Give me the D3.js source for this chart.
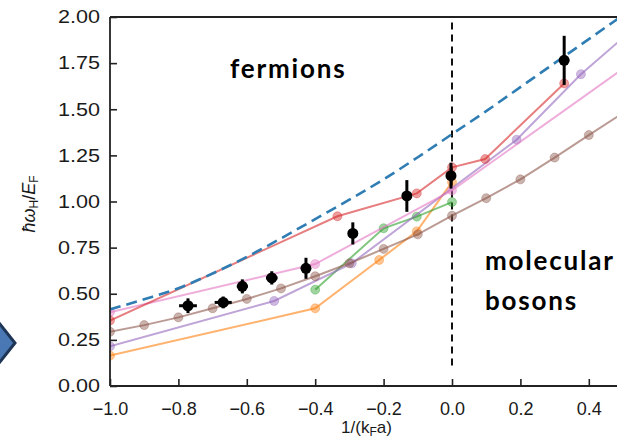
<!DOCTYPE html>
<html>
<head>
<meta charset="utf-8">
<script src="https://cdn.jsdelivr.net/npm/d3@7"></script>
<style>
  html, body { margin: 0; padding: 0; background: #fff; }
  svg { display: block; }
</style>
</head>
<body>
<svg id="chart" width="617" height="441"></svg>
<script>
// ---- data ----
const xTicks = [-1.0, -0.8, -0.6, -0.4, -0.2, 0.0, 0.2, 0.4];
const yTicks = [0, 0.25, 0.5, 0.75, 1.0, 1.25, 1.5, 1.75, 2.0];

// theory curve (dashed)
const theoryX = [-1.0, -0.9, -0.8, -0.7, -0.6, -0.5, -0.4, -0.3, -0.2, -0.1, 0.0, 0.1, 0.2, 0.3, 0.4, 0.5];
const theoryY = [0.415, 0.47, 0.53, 0.61, 0.70, 0.80, 0.905, 1.01, 1.12, 1.24, 1.365, 1.49, 1.62, 1.75, 1.88, 2.01];

// simulation series
const redX = [-1.0, -0.335, -0.103, 0.0, 0.097, 0.328];
const redY = [0.355, 0.92, 1.044, 1.185, 1.23, 1.64];
const pinkX = [-1.0, -0.4, 0.0, 0.5];
const pinkY = [0.40, 0.661, 1.06, 1.72];
const purpleX = [-1.0, -0.52, -0.293, 0.189, 0.377, 0.5];
const purpleY = [0.215, 0.461, 0.665, 1.335, 1.69, 1.887];
const brownX = [-1.0, -0.9, -0.8, -0.7, -0.6, -0.5, -0.4, -0.3, -0.2, -0.1, 0.0, 0.1, 0.2, 0.3, 0.4, 0.5];
const brownY = [0.294, 0.33, 0.372, 0.421, 0.472, 0.529, 0.595, 0.665, 0.743, 0.822, 0.923, 1.018, 1.12, 1.238, 1.36, 1.48];
const greenX = [-0.4, -0.2, -0.103, 0.0];
const greenY = [0.522, 0.855, 0.918, 0.997];
const orangeX = [-1.0, -0.4, -0.213, -0.103, 0.0];
const orangeY = [0.165, 0.421, 0.683, 0.838, 1.105];

// measurements with error bars
const expX    = [-0.772, -0.669, -0.613, -0.527, -0.427, -0.290, -0.132, -0.003, 0.328];
const expY    = [0.435, 0.453, 0.540, 0.586, 0.638, 0.827, 1.03, 1.14, 1.765];
const expXerr = [0.026, 0.025, 0.016, 0.017, 0.010, 0, 0, 0, 0];
const expYerr = [0.040, 0.032, 0.038, 0.036, 0.057, 0.060, 0.086, 0.070, 0.133];

// ---- layout ----
const svg = d3.select("#chart");
const plotL = 110, plotT = 17, plotB = 386, plotR = 623;
const x = d3.scaleLinear().domain([-1, 0.5]).range([plotL, plotR]);
const y = d3.scaleLinear().domain([0, 2]).range([plotB, plotT]);

svg.append("defs").append("clipPath").attr("id", "plotClip")
  .append("rect").attr("x", plotL).attr("y", plotT)
  .attr("width", plotR - plotL).attr("height", plotB - plotT);

const plot = svg.append("g").attr("clip-path", "url(#plotClip)");

// x = 0 divider
plot.append("line")
  .attr("x1", x(0)).attr("x2", x(0))
  .attr("y1", y(1.97)).attr("y2", y(0.105))
  .attr("stroke", "#111").attr("stroke-width", 2)
  .attr("stroke-dasharray", "7,5");

const zip = (xs, ys) => xs.map((v, i) => [v, ys[i]]);
const line = d3.line().x(d => x(d[0])).y(d => y(d[1]));

const series = [
  { xs: orangeX, ys: orangeY, color: "#ff7f0e" },
  { xs: greenX,  ys: greenY,  color: "#2ca02c" },
  { xs: purpleX, ys: purpleY, color: "#9467bd" },
  { xs: brownX,  ys: brownY,  color: "#8c564b" },
  { xs: pinkX,   ys: pinkY,   color: "#e377c2" },
  { xs: redX,    ys: redY,    color: "#d62728" }
];

series.forEach(s => {
  const pts = zip(s.xs, s.ys);
  plot.append("path").datum(pts)
    .attr("d", line)
    .attr("fill", "none")
    .attr("stroke", s.color)
    .attr("stroke-opacity", 0.6)
    .attr("stroke-width", 2);
  plot.selectAll(null).data(pts).enter().append("circle")
    .attr("cx", d => x(d[0])).attr("cy", d => y(d[1]))
    .attr("r", 4.5)
    .attr("fill", s.color).attr("fill-opacity", 0.45)
    .attr("stroke", s.color).attr("stroke-opacity", 0.35)
    .attr("stroke-width", 1);
});

// theory curve
plot.append("path").datum(zip(theoryX, theoryY))
  .attr("d", d3.line().x(d => x(d[0])).y(d => y(d[1])).curve(d3.curveMonotoneX))
  .attr("fill", "none")
  .attr("stroke", "#2f7db3")
  .attr("stroke-width", 2.6)
  .attr("stroke-dasharray", "11,6");

// measurements
const exp = expX.map((v, i) => ({ x: v, y: expY[i], xe: expXerr[i], ye: expYerr[i] }));
const eg = plot.append("g");
eg.selectAll(".ey").data(exp).enter().append("line")
  .attr("x1", d => x(d.x)).attr("x2", d => x(d.x))
  .attr("y1", d => y(d.y - d.ye)).attr("y2", d => y(d.y + d.ye))
  .attr("stroke", "#000").attr("stroke-width", 3);
eg.selectAll(".ex").data(exp.filter(d => d.xe > 0)).enter().append("line")
  .attr("x1", d => x(d.x - d.xe)).attr("x2", d => x(d.x + d.xe))
  .attr("y1", d => y(d.y)).attr("y2", d => y(d.y))
  .attr("stroke", "#000").attr("stroke-width", 3);
eg.selectAll("circle").data(exp).enter().append("circle")
  .attr("cx", d => x(d.x)).attr("cy", d => y(d.y))
  .attr("r", 5.5).attr("fill", "#000");

// ---- axes ----
const axisColor = "#222";
const fmtX = d3.format(".1f");
const gx = svg.append("g").attr("transform", `translate(0,${plotB})`)
  .call(d3.axisBottom(x).tickValues(xTicks).tickFormat(fmtX).tickSize(-7).tickPadding(16));
const gy = svg.append("g").attr("transform", `translate(${plotL},0)`)
  .call(d3.axisLeft(y).tickValues(yTicks).tickFormat(d3.format(".2f")).tickSize(-7).tickPadding(10));

[gx, gy].forEach(g => {
  g.select(".domain").remove();
  g.selectAll(".tick line").attr("stroke", axisColor).attr("stroke-width", 1.6);
  g.selectAll(".tick text")
    .attr("fill", "#1a1a1a")
    .style("font-family", "'Liberation Sans', Arial, sans-serif")
    .style("font-size", "18px");
});
gy.selectAll(".tick text").attr("x", -10 / 1.2).attr("transform", "scale(1.2,1)");

// spines
svg.append("line").attr("x1", plotL).attr("x2", plotL).attr("y1", plotT).attr("y2", plotB)
  .attr("stroke", axisColor).attr("stroke-width", 1.8);
svg.append("line").attr("x1", plotL).attr("x2", 617).attr("y1", plotB).attr("y2", plotB)
  .attr("stroke", axisColor).attr("stroke-width", 1.8);
svg.append("line").attr("x1", plotL).attr("x2", 617).attr("y1", plotT).attr("y2", plotT)
  .attr("stroke", axisColor).attr("stroke-width", 1.8);

// axis titles
const xt = svg.append("text")
  .attr("x", (plotL + plotR) / 2).attr("y", 433)
  .attr("text-anchor", "middle")
  .style("font-family", "'Liberation Sans', Arial, sans-serif")
  .style("font-size", "17px").attr("fill", "#1a1a1a");
xt.append("tspan").text("1/(k");
xt.append("tspan").text("F").style("font-size", "12px").attr("baseline-shift", "-25%");
xt.append("tspan").text("a)");

const yt = svg.append("text")
  .attr("transform", "translate(35,204) rotate(-90)")
  .attr("text-anchor", "middle")
  .style("font-family", "'Liberation Sans', Arial, sans-serif")
  .style("font-size", "18px").attr("fill", "#1a1a1a");
yt.append("tspan").text("ħω").style("font-style", "italic");
yt.append("tspan").text("H").style("font-size", "12px").attr("baseline-shift", "-25%");
yt.append("tspan").text("/");
yt.append("tspan").text("E").style("font-style", "italic");
yt.append("tspan").text("F").style("font-size", "12px").attr("baseline-shift", "-25%");

// region labels
[["fermions", 230, 78], ["molecular", 485, 270], ["bosons", 485, 310]].forEach(([t, tx, ty]) => {
  svg.append("text").attr("x", tx).attr("y", ty).text(t)
    .style("font-family", "Lato, 'Open Sans', sans-serif")
    .style("font-size", "26px")
    .style("letter-spacing", "1.8px")
    .style("font-weight", "bold").attr("fill", "#000");
});

// side arrow
svg.append("path")
  .attr("d", "M-4,319 L15,343 L-4,367 Z")
  .attr("fill", "#4a78b5").attr("stroke", "#1e3556").attr("stroke-width", 3)
  .attr("stroke-linejoin", "miter");
</script>
</body>
</html>
